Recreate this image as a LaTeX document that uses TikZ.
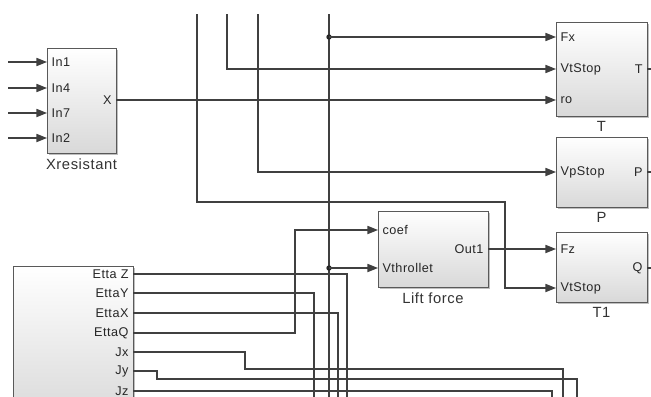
\documentclass[tikz,border=0pt]{standalone}
\usepackage{fontspec}
\setmainfont{Liberation Sans}[LetterSpace=4]
\usetikzlibrary{arrows.meta, positioning, fit, shadows, calc}

\begin{document}
\begin{tikzpicture}[
    x=0.025cm, y=-0.025cm,
    block/.style={draw=black!65, line width=0.7pt, top color=white, bottom color=black!15, inner sep=0pt,
        drop shadow={shadow xshift=1.6pt, shadow yshift=-1.6pt, fill=black!50}},
    inport/.style={anchor=west, inner sep=3pt, text=black!85, font=\fontsize{9}{10}\selectfont},
    outport/.style={anchor=east, inner sep=3pt, text=black!85, font=\fontsize{9}{10}\selectfont},
    blockname/.style={text=black!80, font=\fontsize{10.5}{11}\selectfont, label distance=0pt},
    wire/.style={draw=black!75, line width=0.85pt},
    arrow/.style={wire, -{Triangle[length=7.5pt,width=5.8pt]}},
    junction/.style={circle, fill=black!85, inner sep=0pt, minimum size=3.8pt}
]
    \useasboundingbox (0,0) rectangle (651,396);
    \clip (0,0) rectangle (651,396);

    \node[block, fit={(47,48) (116,153)}, label={[blockname]below:Xresistant}] (xres) {};
    \node[inport] (xres-in1) at (47,62) {In1};
    \node[inport] (xres-in4) at (47,88) {In4};
    \node[inport] (xres-in7) at (47,113) {In7};
    \node[inport] (xres-in2) at (47,138) {In2};
    \node[outport] (xres-x) at (116,100) {X};

    \node[block, fit={(556,22) (647,116)}, label={[blockname]below:T}] (t) {};
    \node[inport] (t-fx) at (556,37) {Fx};
    \node[inport] (t-vt) at (556,69) {VtStop};
    \node[inport] (t-ro) at (556,100) {ro};
    \node[outport] (t-out) at (647,69) {T};

    \node[block, fit={(556,137) (647,207)}, label={[blockname]below:P}] (p) {};
    \node[inport] (p-vp) at (556,172) {VpStop};
    \node[outport] (p-out) at (647,172) {P};

    \node[block, fit={(556,232) (647,302)}, label={[blockname]below:T1}] (t1) {};
    \node[inport] (t1-fz) at (556,249) {Fz};
    \node[inport] (t1-vt) at (556,288) {VtStop};
    \node[outport] (t1-out) at (647,268) {Q};

    \node[block, fit={(378,211) (488,287)}, label={[blockname]below:Lift force}] (lf) {};
    \node[inport] (lf-coef) at (378,230) {coef};
    \node[inport] (lf-vt) at (378,268) {Vthrollet};
    \node[outport] (lf-out) at (488,249) {Out1};

    \node[block, fit={(13,266) (133,420)}] (etta) {};
    \node[outport] (etta-z) at (133,274) {Etta Z};
    \node[outport] (etta-y) at (133,293) {EttaY};
    \node[outport] (etta-x) at (133,313) {EttaX};
    \node[outport] (etta-q) at (133,333) {EttaQ};
    \node[outport] (etta-jx) at (133,352) {Jx};
    \node[outport] (etta-jy) at (133,371) {Jy};
    \node[outport] (etta-jz) at (133,391) {Jz};

    \coordinate (srcA) at (197,14);
    \coordinate (srcB) at (227,14);
    \coordinate (srcC) at (258,14);
    \coordinate (srcD) at (329,14);
    \coordinate (sinkD) at (329,410);
    \coordinate (bendA) at (505,202);
    \coordinate (bendQ) at (295,230);
    \coordinate (bendJx) at (245,369);
    \coordinate (bendJy) at (157,379);
    \coordinate (sinkZ) at (347,410);
    \coordinate (sinkY) at (314,410);
    \coordinate (sinkX) at (338,410);
    \coordinate (sinkJx) at (563,410);
    \coordinate (sinkJy) at (577,410);
    \coordinate (sinkJz) at (552,410);
    \coordinate (outT) at (665,69);
    \coordinate (outP) at (665,172);
    \coordinate (outQ) at (665,268);

    \foreach \p in {in1,in4,in7,in2} {
        \coordinate (free-\p) at ($(xres-\p.west)+(-39,0)$);
        \draw[arrow] (free-\p) -- (xres-\p.west);
    }

    \draw[arrow] (srcA) |- (bendA) |- (t1-vt.west);
    \draw[arrow] (srcB) |- (t-vt.west);
    \draw[arrow] (srcC) |- (p-vp.west);
    \draw[wire] (srcD) -- (sinkD);
    \node[junction] (jFx) at (srcD |- t-fx.west) {};
    \node[junction] (jVt) at (srcD |- lf-vt.west) {};
    \draw[arrow] (jFx.center) -- (t-fx.west);
    \draw[arrow] (jVt.center) -- (lf-vt.west);

    \draw[arrow] (xres-x.east) -- (t-ro.west);
    \draw[arrow] (lf-out.east) -- (t1-fz.west);
    \draw[arrow] (etta-q.east) -| (bendQ) -- (lf-coef.west);

    \draw[wire] (etta-z.east) -| (sinkZ);
    \draw[wire] (etta-y.east) -| (sinkY);
    \draw[wire] (etta-x.east) -| (sinkX);
    \draw[wire] (etta-jx.east) -| (bendJx) -| (sinkJx);
    \draw[wire] (etta-jy.east) -| (bendJy) -| (sinkJy);
    \draw[wire] (etta-jz.east) -| (sinkJz);

    \draw[wire] (t-out.east) -- (outT);
    \draw[wire] (p-out.east) -- (outP);
    \draw[wire] (t1-out.east) -- (outQ);
\end{tikzpicture}
\end{document}
